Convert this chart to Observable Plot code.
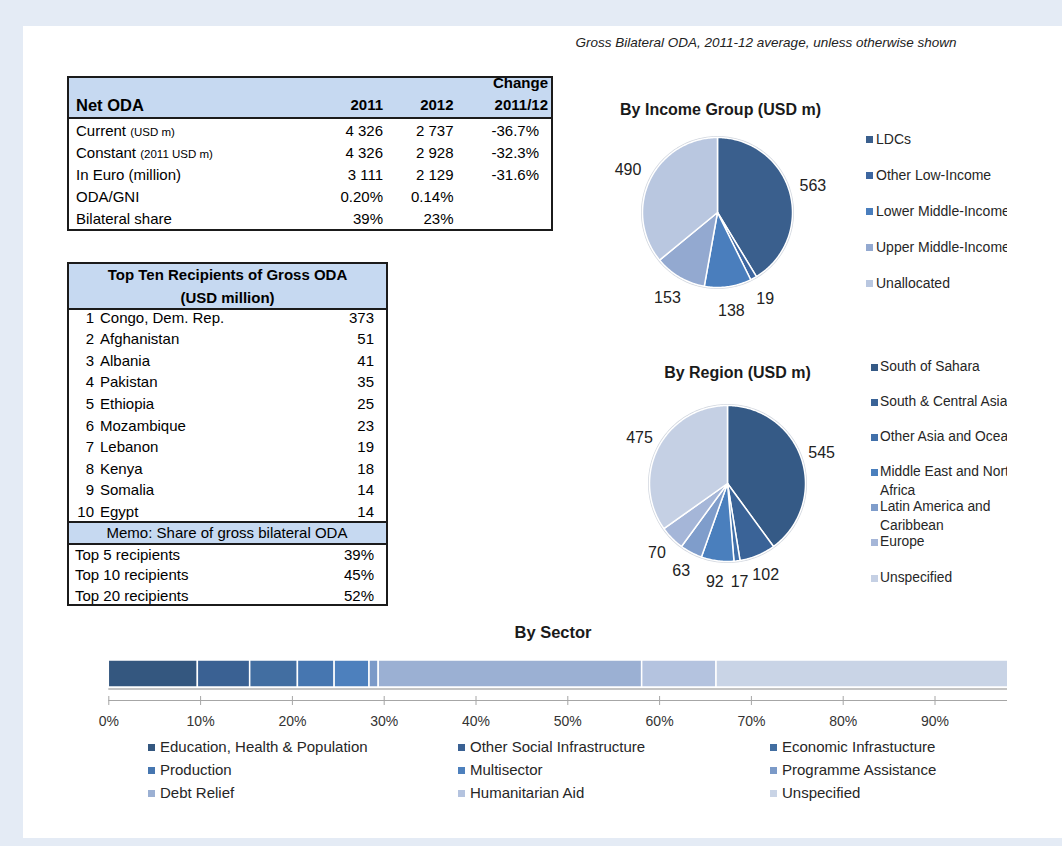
<!DOCTYPE html>
<html><head><meta charset="utf-8">
<script src="https://cdn.jsdelivr.net/npm/d3@7"></script>
<script src="https://cdn.jsdelivr.net/npm/@observablehq/plot@0.6"></script>
<style>
body{margin:0;background:#fff;font-family:"Liberation Sans",Arial,sans-serif;color:#000;}
#root{position:relative;width:1062px;height:846px;overflow:hidden;background:#e4ebf5;}
.abs{position:absolute;}
.abs svg{max-width:none !important;}
.t{position:absolute;white-space:nowrap;line-height:20px;height:20px;}
.box{position:absolute;box-sizing:border-box;border:2px solid #1b1b1b;background:#fff;overflow:hidden;}
.band{position:absolute;background:#c6d9f1;}
.hl{position:absolute;background:#1b1b1b;height:2px;}
.mk{position:absolute;width:7px;height:7px;}
</style></head><body><div id="root"></div>
<script>
// ---------------- DATA ----------------
const subtitle = "Gross Bilateral ODA, 2011-12 average, unless otherwise shown";

const netOdaTitle = "Net ODA";
const netOdaYears = ["2011", "2012"];
const netOdaChangeHead = ["Change", "2011/12"];
const netOdaLabels = ["Current", "Constant", "In Euro (million)", "ODA/GNI", "Bilateral share"];
const netOdaNotes = ["(USD m)", "(2011 USD m)", "", "", ""];
const netOda2011 = ["4 326", "4 326", "3 111", "0.20%", "39%"];
const netOda2012 = ["2 737", "2 928", "2 129", "0.14%", "23%"];
const netOdaChange = ["-36.7%", "-32.3%", "-31.6%", "", ""];

const topTitle = ["Top Ten Recipients of Gross ODA", "(USD million)"];
const topRecipients = ["Congo, Dem. Rep.", "Afghanistan", "Albania", "Pakistan", "Ethiopia",
  "Mozambique", "Lebanon", "Kenya", "Somalia", "Egypt"];
const topValues = [373, 51, 41, 35, 25, 23, 19, 18, 14, 14];
const memoTitle = "Memo:  Share of gross bilateral ODA";
const shareLabels = ["Top 5 recipients", "Top 10 recipients", "Top 20 recipients"];
const shareValues = ["39%", "45%", "52%"];

const incomeTitle = "By Income Group (USD m)";
const incomeGroups = ["LDCs", "Other Low-Income", "Lower Middle-Income", "Upper Middle-Income", "Unallocated"];
const incomeValues = [563, 19, 138, 153, 490];
const incomeColors = ["#3a5f8d", "#3d66a0", "#4a7ebd", "#93a9d0", "#b9c7e0"];

const regionTitle = "By Region (USD m)";
const regions = ["South of Sahara", "South & Central Asia", "Other Asia and Oceania",
  "Middle East and North Africa", "Latin America and Caribbean", "Europe", "Unspecified"];
const regionValues = [545, 102, 17, 92, 63, 70, 475];
const regionColors = ["#355a86", "#3a6397", "#4170aa", "#4a7fbd", "#7f9dcb", "#a5b6d8", "#c5d0e4"];

const sectorTitle = "By Sector";
const sectors = ["Education, Health & Population", "Other Social Infrastructure", "Economic Infrastucture",
  "Production", "Multisector", "Programme Assistance", "Debt Relief", "Humanitarian Aid", "Unspecified"];
const sectorShares = [9.7, 5.7, 5.2, 4.0, 3.8, 1.0, 28.7, 8.1, 33.8];
const sectorColors = ["#34577f", "#3a6193", "#426ea1", "#4676b0", "#4d80bd", "#7b9ac8", "#9bb0d3", "#b4c3df", "#c9d4e6"];
const sectorTicks = [0, 10, 20, 30, 40, 50, 60, 70, 80, 90, 100];

// ---------------- LAYOUT HELPERS ----------------
const root = document.getElementById("root");
const FONT = '"Liberation Sans", Arial, sans-serif';

function el(cls, css, parent = root) {
  const d = document.createElement("div");
  d.className = cls;
  Object.assign(d.style, css);
  parent.appendChild(d);
  return d;
}
function txt(html, x, y, o = {}, parent = root) {
  const d = el("t", {left: x + "px", top: (y - 10) + "px"}, parent);
  d.innerHTML = html;
  d.style.fontSize = (o.size || 15) + "px";
  if (o.weight) d.style.fontWeight = o.weight;
  if (o.italic) d.style.fontStyle = "italic";
  if (o.color) d.style.color = o.color;
  if (o.align === "right") d.style.transform = "translateX(-100%)";
  else if (o.align === "center") d.style.transform = "translateX(-50%)";
  return d;
}

// white panel
el("abs", {left: "23px", top: "26px", width: "1039px", height: "812px", background: "#fff"});

txt(subtitle, 766, 43, {size: 13.5, italic: true, align: "center", color: "#222"});

// ---------------- TABLE 1: Net ODA ----------------
{
  const b = el("box", {left: "67px", top: "76px", width: "486px", height: "155px"});
  const ox = 69, oy = 78; // inner origin (after border)
  el("band", {left: "0px", top: "0px", width: "100%", height: "39px"}, b);
  el("hl", {left: "0px", top: "39px", width: "100%"}, b);
  const T = (s, x, y, o) => txt(s, x - ox, y - oy, o, b);
  T(netOdaTitle, 76, 104.5, {size: 16.5, weight: "bold"});
  T(netOdaYears[0], 383, 105, {weight: "bold", align: "right"});
  T(netOdaYears[1], 453.5, 105, {weight: "bold", align: "right"});
  T(netOdaChangeHead[0], 548, 82.5, {weight: "bold", align: "right"});
  T(netOdaChangeHead[1], 548, 105, {weight: "bold", align: "right"});
  netOdaLabels.forEach((lab, i) => {
    const y = 131 + i * 22;
    const note = netOdaNotes[i] ? ` <span style="font-size:11.5px">${netOdaNotes[i]}</span>` : "";
    T(lab + note, 76, y);
    T(netOda2011[i], 383, y, {align: "right"});
    T(netOda2012[i], 453.5, y, {align: "right"});
    if (netOdaChange[i]) T(netOdaChange[i], 539, y, {align: "right"});
  });
}

// ---------------- TABLE 2: Top ten ----------------
{
  const b = el("box", {left: "67px", top: "262px", width: "321px", height: "344px"});
  const ox = 69, oy = 264;
  el("band", {left: "0px", top: "0px", width: "100%", height: "44px"}, b);
  el("hl", {left: "0px", top: "44px", width: "100%"}, b);
  const T = (s, x, y, o) => txt(s, x - ox, y - oy, o, b);
  T(topTitle[0], 227.5, 274.5, {weight: "bold", align: "center"});
  T(topTitle[1], 227.5, 297.5, {weight: "bold", align: "center"});
  topRecipients.forEach((name, i) => {
    const y = 317.5 + i * 21.6;
    T(String(i + 1), 94, y, {align: "right"});
    T(name, 100, y);
    T(String(topValues[i]), 374, y, {align: "right"});
  });
  el("hl", {left: "0px", top: (521 - oy) + "px", width: "100%"}, b);
  el("band", {left: "0px", top: (523 - oy) + "px", width: "100%", height: "20px"}, b);
  el("hl", {left: "0px", top: (543 - oy) + "px", width: "100%"}, b);
  T(memoTitle, 227, 533, {align: "center"});
  shareLabels.forEach((lab, i) => {
    const y = 554.5 + i * 20.6;
    T(lab, 75, y);
    T(shareValues[i], 374, y, {align: "right"});
  });
}

// ---------------- PIES ----------------
function pie({labels, values, colors, r, lr, w, h, cx, cy}) {
  const arcs = d3.pie().sort(null).value(d => d)(values);
  const pts = [];
  arcs.forEach((a, i) => {
    const k = labels[i];
    pts.push({k, x: 0, y: 0});
    const n = Math.max(2, Math.ceil((a.endAngle - a.startAngle) / (Math.PI / 180)));
    for (let j = 0; j <= n; j++) {
      const t = a.startAngle + (a.endAngle - a.startAngle) * j / n;
      pts.push({k, x: r * Math.sin(t), y: -r * Math.cos(t)});
    }
    pts.push({k, x: 0, y: 0});
  });
  const rim = d3.range(0, 361, 2).map(dg => ({x: r * Math.sin(dg * Math.PI / 180), y: -r * Math.cos(dg * Math.PI / 180)}));
  const lab = arcs.map((a, i) => {
    const m = (a.startAngle + a.endAngle) / 2;
    return {v: values[i], x: lr * Math.sin(m), y: -lr * Math.cos(m)};
  });
  return Plot.plot({
    width: w, height: h, margin: 0,
    x: {domain: [-cx, w - cx], range: [0, w], axis: null},
    y: {domain: [-cy, h - cy], range: [0, h], axis: null},
    color: {domain: labels, range: colors},
    style: {fontFamily: FONT, fontSize: "16px", background: "transparent", overflow: "visible", maxWidth: "none"},
    marks: [
      Plot.line(rim, {x: "x", y: "y", stroke: "#d2d7df", strokeWidth: 3}),
      Plot.line(pts, {x: "x", y: "y", z: "k", fill: "k", stroke: "white", strokeWidth: 1.5, strokeLinejoin: "round", curve: "linear"}),
      Plot.text(lab, {x: "x", y: "y", text: "v", fontSize: 16, fill: "#222"})
    ]
  });
}

function legend(labels, colors, x, y0, step, mkx, width, size) {
  const clip = el("abs", {left: "840px", top: "0px", width: "167px", height: "846px", overflow: "hidden"});
  labels.forEach((lab, i) => {
    const y = y0 + i * step;
    el("mk", {left: (mkx - 840) + "px", top: (y - 3.5) + "px", background: colors[i]}, clip);
    const d = el("abs", {left: (x - 840) + "px", top: (y - 9.5) + "px", width: width + "px",
      fontSize: size + "px", lineHeight: "18.5px", color: "#262626", whiteSpace: "normal"}, clip);
    d.textContent = lab;
  });
}

// Income pie
txt(incomeTitle, 720.5, 110, {size: 16, weight: "bold", align: "center", color: "#1a1a1a"});
{
  const c = el("abs", {left: "600px", top: "125px", width: "250px", height: "205px"});
  c.appendChild(pie({labels: incomeGroups, values: incomeValues, colors: incomeColors,
    r: 75, lr: 99, w: 250, h: 205, cx: 117, cy: 87}));
}
legend(incomeGroups, incomeColors, 876, 139, 36, 866, 200, 14);

// Region pie
txt(regionTitle, 737.5, 373, {size: 16, weight: "bold", align: "center", color: "#1a1a1a"});
{
  const c = el("abs", {left: "610px", top: "385px", width: "240px", height: "215px"});
  c.appendChild(pie({labels: regions, values: regionValues, colors: regionColors,
    r: 78, lr: 99, w: 240, h: 215, cx: 117, cy: 98}));
}
legend(regions, regionColors, 880, 367, 35.17, 871, 160, 13.8);

// ---------------- SECTOR BAR ----------------
txt(sectorTitle, 553, 632, {size: 16.5, weight: "bold", align: "center", color: "#1a1a1a"});
{
  const sectorData = sectors.map((s, i) => ({sector: s, share: sectorShares[i]}));
  const c = el("abs", {left: "0px", top: "650px", width: "1007px", height: "90px", overflow: "hidden"});
  c.appendChild(Plot.plot({
    width: 1062, height: 90,
    marginLeft: 108.3, marginRight: 1062 - 1026.3, marginTop: 0, marginBottom: 40,
    x: {domain: [0, 100], label: null},
    y: {domain: [0, 50], range: [0, 50], axis: null},
    color: {domain: sectors, range: sectorColors},
    style: {fontFamily: FONT, fontSize: "14px", background: "transparent", color: "#333", maxWidth: "none"},
    marks: [
      Plot.barX(sectorData, Plot.stackX({x: "share", fill: "sector", insetTop: 10, insetBottom: 13, stroke: "white", strokeWidth: 1.5})),
      Plot.ruleY([38.6], {stroke: "#c4c4c4", strokeWidth: 2}),
      Plot.ruleY([50], {stroke: "#a6a6a6"}),
      Plot.ruleX(sectorTicks, {x: d => d, y1: () => 46, y2: () => 55, stroke: "#a6a6a6"}),
      Plot.axisX(sectorTicks, {tickSize: 0, tickPadding: 16, tickFormat: d => d + "%", fontSize: 14, fill: "#333", label: null})
    ]
  }));
}
// sector legend
{
  const colX = [148, 458, 770];
  const rowY = [747, 770, 793];
  sectors.forEach((s, i) => {
    const x = colX[i % 3], y = rowY[Math.floor(i / 3)];
    el("mk", {left: x + "px", top: (y - 3.5) + "px", background: sectorColors[i]});
    txt(s, x + 12, y, {size: 15, color: "#262626"});
  });
}
</script></body></html>
